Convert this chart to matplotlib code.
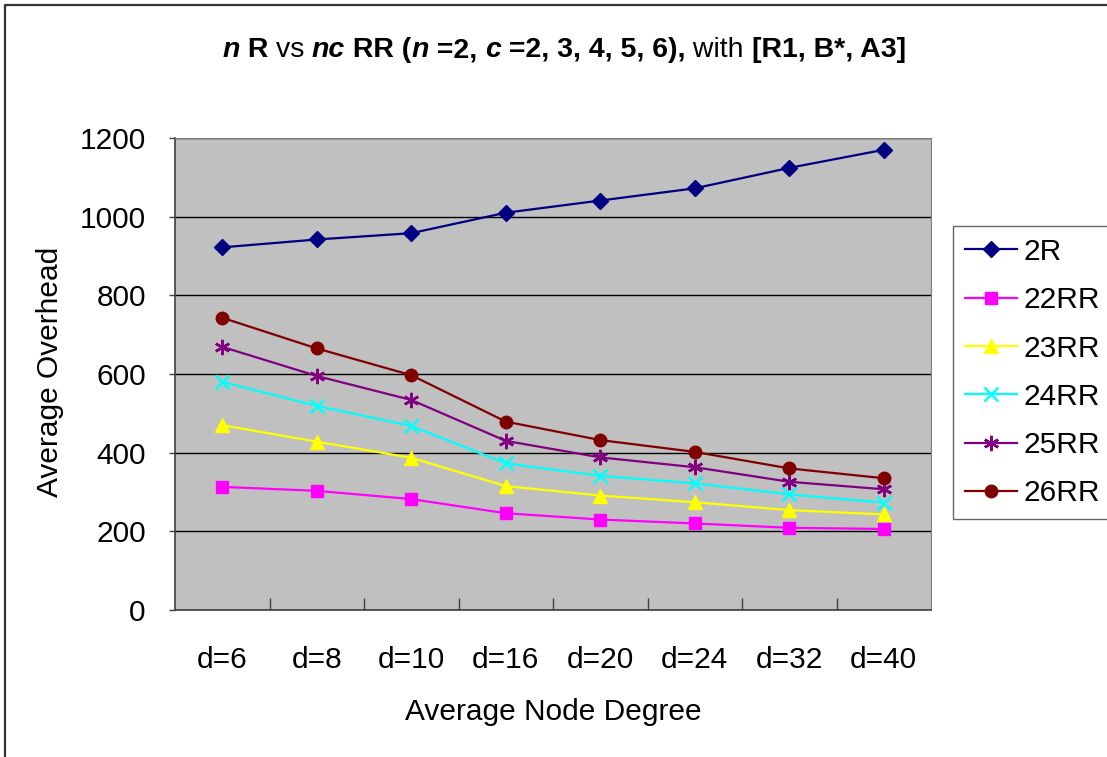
import matplotlib.pyplot as plt
import matplotlib.lines as mlines
import numpy as np

plt.rcParams['font.family'] = ['Liberation Sans', 'DejaVu Sans']

degrees = ['d=6', 'd=8', 'd=10', 'd=16', 'd=20', 'd=24', 'd=32', 'd=40']
r2 = [922, 942, 958, 1010, 1041, 1072, 1124, 1170]
rr22 = [313, 303, 282, 246, 230, 220, 209, 206]
rr23 = [470, 428, 387, 315, 291, 274, 254, 243]
rr24 = [580, 519, 468, 373, 341, 322, 294, 273]
rr25 = [669, 595, 534, 430, 388, 363, 326, 307]
rr26 = [743, 665, 597, 479, 432, 402, 360, 335]

series = [
    ('2R', r2, '#000080', 'D', 8.5),
    ('22RR', rr22, '#FF00FF', 's', 8.5),
    ('23RR', rr23, '#FFFF00', '^', 10),
    ('24RR', rr24, '#00FFFF', 'x', 10),
    ('25RR', rr25, '#800080', (6, 2, 0), 11),
    ('26RR', rr26, '#800000', 'o', 9),
]
FS = 21.5

fig = plt.figure(figsize=(11.07, 7.57), dpi=100)
# frame lines along the left and top edges
fig.add_artist(mlines.Line2D([4.5 / 1107, 4.5 / 1107, 1.0], [0.0, 1 - 4.5 / 757, 1 - 4.5 / 757],
                             transform=fig.transFigure, color='#333333', lw=1.6))

ax = fig.add_axes([175 / 1107, 1 - 610 / 757, 756 / 1107, 472 / 757])
ax.set_facecolor('#C0C0C0')
x = np.arange(len(degrees))
for name, vals, col, mk, ms in series:
    ax.plot(x, vals, color=col, lw=1.6, marker=mk, ms=ms,
            mew=1.8 if mk in ('x', (6, 2, 0)) else 1,
            mec=col, mfc=col, label=name)

ax.set_xlim(-0.5, len(degrees) - 0.5)
ax.set_ylim(0, 1200)
ax.set_yticks(np.arange(0, 1201, 200))
ax.yaxis.grid(True, color='black', lw=1)
ax.set_axisbelow(True)
ax.set_xticks(x)
ax.set_xticklabels(degrees)
ax.set_xticks(np.arange(0.5, len(degrees) - 1, 1), minor=True)
ax.tick_params(axis='x', which='major', length=0, pad=26, labelsize=FS)
ax.tick_params(axis='x', which='minor', direction='in', length=9, width=1, color='#404040')
ax.tick_params(axis='y', direction='out', length=4, width=1, pad=17, labelsize=FS, color='#404040')
for s in ('top', 'right'):
    ax.spines[s].set_color('#808080')
for s in ('left', 'bottom'):
    ax.spines[s].set_color('#404040')
    ax.spines[s].set_linewidth(1.2)

ax.set_ylabel('Average Overhead', fontsize=FS)
ax.yaxis.set_label_coords(50 / 1107, 1 - 372 / 757, transform=fig.transFigure)
ax.set_xlabel('Average Node Degree', fontsize=FS)
ax.xaxis.set_label_coords(553 / 1107, 1 - 712 / 757, transform=fig.transFigure)
ax.xaxis.label.set_va('center')
ax.yaxis.label.set_va('center')

leg = ax.legend(loc='upper left', bbox_to_anchor=(953 / 1107, 1 - 226 / 757),
                bbox_transform=fig.transFigure, fontsize=FS, frameon=True,
                fancybox=False, edgecolor='#404040', borderpad=0.4,
                labelspacing=0.68, handlelength=1.75, handletextpad=0.22,
                borderaxespad=0)
leg.get_frame().set_linewidth(1)

# title built from pieces with mixed weights and styles
pieces = [
    ('n', 'bold', 'italic'), (' R ', 'bold', 'normal'), ('vs ', 'normal', 'normal'),
    ('nc', 'bold', 'italic'), (' RR (', 'bold', 'normal'), ('n', 'bold', 'italic'),
    (' =2, ', 'bold', 'normal'), ('c', 'bold', 'italic'), (' =2, 3, 4, 5, 6),', 'bold', 'normal'),
    (' with ', 'normal', 'normal'), ('[R1, B*, A3]', 'bold', 'normal'),
]
renderer = fig.canvas.get_renderer()
texts = []
for txt, w, st in pieces:
    t = fig.text(0, 1 - 50 / 757, txt, fontsize=20.5, fontweight=w, fontstyle=st,
                 va='center', ha='left')
    texts.append(t)
widths = [t.get_window_extent(renderer).width for t in texts]
xpos = 564 - sum(widths) / 2
for t, wd in zip(texts, widths):
    t.set_x(xpos / 1107)
    xpos += wd

fig.savefig('out.png', dpi=100)
